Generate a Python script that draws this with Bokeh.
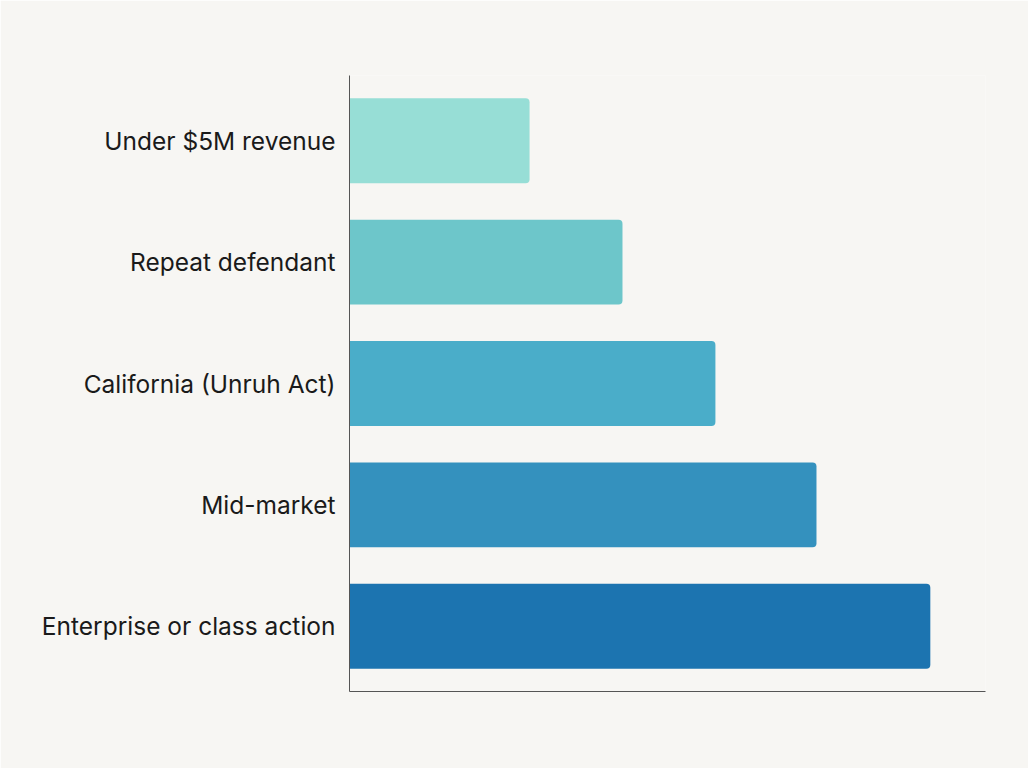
from bokeh.embed import file_html
from bokeh.models import ColumnDataSource, FactorRange
from bokeh.plotting import figure
from bokeh.resources import INLINE

# categories top to bottom, values are relative exposure
categories = ['Under $5M revenue', 'Repeat defendant', 'California (Unruh Act)',
              'Mid-market', 'Enterprise or class action']
values = [31, 47, 63, 80.4, 100]
colors = ['#97ded6', '#6dc6ca', '#4aadc9', '#3491be', '#1c74b0']

source = ColumnDataSource(dict(cat=categories, val=values, color=colors))

p = figure(width=1028, height=768, output_backend="svg", toolbar_location=None,
           y_range=FactorRange(factors=categories[::-1], range_padding=0.015),
           x_range=(0, 109.5),
           min_border_left=349, min_border_top=75, min_border_right=43, min_border_bottom=77)

p.hbar(y='cat', right='val', left=0, height=0.70, color='color', source=source,
       line_color=None, border_radius=(0, 4, 4, 0))

p.background_fill_color = '#f7f6f3'
p.border_fill_color = '#f7f6f3'
p.outline_line_color = None
p.xgrid.grid_line_color = None
p.ygrid.grid_line_color = None

p.xaxis.ticker = []
p.xaxis.major_tick_line_color = None
p.xaxis.minor_tick_line_color = None
p.xaxis.axis_line_color = '#555555'

p.yaxis.major_tick_line_color = None
p.yaxis.minor_tick_line_color = None
p.yaxis.axis_line_color = '#555555'
p.yaxis.major_label_text_font = 'Inter'
p.yaxis.major_label_text_font_size = '24.5px'
p.yaxis.major_label_text_color = '#1a1a1a'
p.yaxis.major_label_standoff = 8

open("out.html", "w").write(file_html(p, INLINE))
